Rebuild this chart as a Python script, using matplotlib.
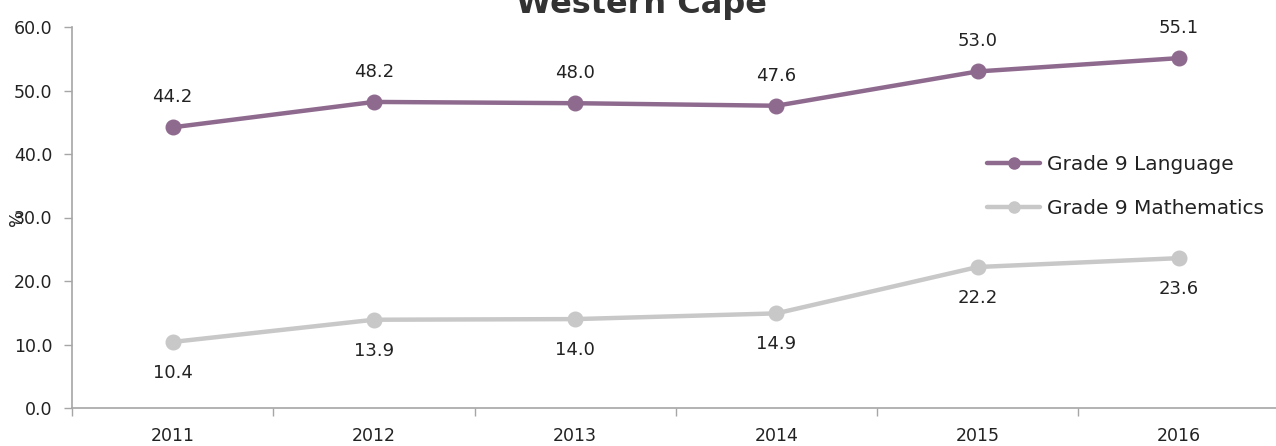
import matplotlib
matplotlib.use("Agg")
import matplotlib.pyplot as plt
import numpy as np

years = ["2011", "2012", "2013", "2014", "2015", "2016"]
language = [44.2, 48.2, 48.0, 47.6, 53.0, 55.1]
mathematics = [10.4, 13.9, 14.0, 14.9, 22.2, 23.6]
ytick_values = [0, 10, 20, 30, 40, 50, 60]

purple = "#8f6a8f"
grey = "#c8c8c8"
axis_grey = "#a6a6a6"
text_col = "#222222"

plt.rcParams["font.family"] = ["DejaVu Sans"]

W, H = 1276, 446
fig = plt.figure(figsize=(W / 100, H / 100), dpi=100)
left_px, right_px, top_px, bottom_px = 72, 1279.5, 27, 408
ax = fig.add_axes([left_px / W, 1 - bottom_px / H,
                   (right_px - left_px) / W, (bottom_px - top_px) / H])

x = np.arange(len(years))
ax.plot(x, language, color=purple, lw=3.2, marker="o", ms=10.5,
        label="Grade 9 Language", solid_capstyle="round", zorder=3)
ax.plot(x, mathematics, color=grey, lw=3.2, marker="o", ms=10.5,
        label="Grade 9 Mathematics", solid_capstyle="round", zorder=3)

for xi, v in zip(x, language):
    ax.annotate(f"{v:.1f}", (xi, v), xytext=(0, 30), textcoords="offset pixels",
                ha="center", va="center", fontsize=13, color=text_col)
for xi, v in zip(x, mathematics):
    ax.annotate(f"{v:.1f}", (xi, v), xytext=(0, -31), textcoords="offset pixels",
                ha="center", va="center", fontsize=13, color=text_col)

ax.set_xlim(-0.5, len(years) - 0.5)
ax.set_ylim(0, 60)
ax.set_yticks(ytick_values)
ax.set_yticklabels([f"{v:.1f}" for v in ytick_values], fontsize=12.5, color=text_col)
ax.set_xticks(x)
ax.set_xticklabels(years, fontsize=12.5, color=text_col)
ax.set_xticks(np.arange(-0.5, len(years), 1.0), minor=True)

ax.tick_params(axis="x", which="major", length=0, pad=14)
ax.tick_params(axis="x", which="minor", length=6, color=axis_grey, width=1)
ax.tick_params(axis="y", which="major", length=6, color=axis_grey, width=1, pad=8)

for side in ["top", "right"]:
    ax.spines[side].set_visible(False)
for side in ["left", "bottom"]:
    ax.spines[side].set_color(axis_grey)
    ax.spines[side].set_linewidth(1.2)

leg = ax.legend(loc="upper left", bbox_to_anchor=(987 / W, 1 - 155 / H),
                bbox_transform=fig.transFigure, frameon=False, fontsize=14.5,
                handlelength=2.65, handletextpad=0.35, labelspacing=1.25,
                borderpad=0, borderaxespad=0)
for t in leg.get_texts():
    t.set_color(text_col)
for h in leg.legend_handles:
    h.set_markersize(8)

fig.text(17 / W, 1 - 218 / H, "%", rotation=90, ha="center", va="center",
         fontsize=12.5, color=text_col)

fig.text(641 / W, 1 - 13 / H, "Western Cape", ha="center", va="baseline",
         fontsize=23, fontweight="bold", color="#333333")

fig.savefig("out.png", dpi=100)
